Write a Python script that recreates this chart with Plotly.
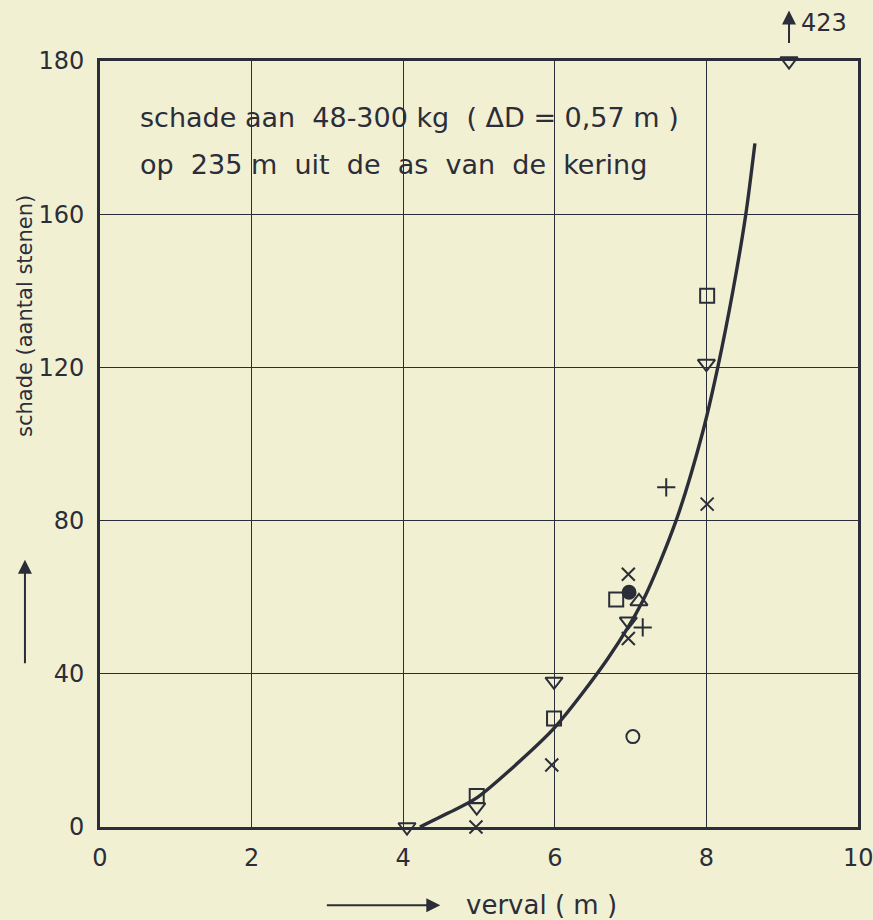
import plotly.graph_objects as go

# Measured damage (number of displaced stones) against head difference (m)
sq_x = [4.97, 5.99, 6.81, 8.01]
sq_y = [8.1, 28.3, 59.4, 138.7]

tri_down_x = [4.05, 4.97, 5.99, 6.97, 8.00, 9.09]
tri_down_y = [0.0, 5.2, 38.0, 53.7, 121.0, 423.0]

cross_x = [4.96, 5.96, 6.97, 6.97, 8.01]
cross_y = [0.0, 16.2, 66.0, 49.2, 84.3]

plus_x = [7.16, 7.47]
plus_y = [52.1, 88.7]

circle_open_x = [7.03]
circle_open_y = [23.6]

circle_fill_x = [6.98]
circle_fill_y = [61.3]

tri_up_x = [7.11]
tri_up_y = [58.9]

# Hand-drawn fitted curve
curve_x = [4.22, 4.60, 4.97, 5.50, 6.00, 6.70, 7.16, 7.60, 7.95, 8.15, 8.35, 8.52, 8.64]
curve_y = [0.0, 3.7, 7.6, 16.5, 26.0, 44.0, 59.0, 80.0, 103.0, 120.0, 140.0, 160.0, 178.5]

x_ticks = [0, 2, 4, 6, 8]
x_last_tick = 10
y_ticks = [0, 40, 80, 120, 160, 200]
y_tick_text = ["0", "40", "80", "120", "160", "180"]

Y_TOP = 200

INK = "#2b2e38"
PAPER = "#f2f0d3"
FONT = "DejaVu Sans"


def clip_top(values):
    return [min(v, Y_TOP) for v in values]


fig = go.Figure()

fig.add_trace(go.Scatter(x=curve_x, y=curve_y, mode="lines",
                         line=dict(color=INK, width=3.4, shape="spline", smoothing=0.8),
                         hoverinfo="skip"))

marker_line = dict(color=INK, width=2)
series = [
    (sq_x, sq_y, "square-open", 14),
    (tri_down_x, clip_top(tri_down_y), "triangle-down-open", 15),
    (cross_x, cross_y, "x-thin-open", 13),
    (plus_x, plus_y, "cross-thin-open", 13),
    (circle_open_x, circle_open_y, "circle-open", 13),
    (circle_fill_x, circle_fill_y, "circle", 13),
    (tri_up_x, tri_up_y, "triangle-up-open", 15),
]
for xs, ys, sym, size in series:
    fig.add_trace(go.Scatter(x=xs, y=ys, mode="markers", cliponaxis=False,
                             marker=dict(symbol=sym, size=size, color=INK, line=marker_line)))

annotations = [
    dict(text="schade aan  48-300 kg  ( \u0394D = 0,57 m )", x=0.05, y=0.926,
         xref="paper", yref="paper", xanchor="left", yanchor="middle", showarrow=False,
         font=dict(size=27, color=INK, family=FONT)),
    dict(text="op  235 m  uit  de  as  van  de  kering", x=0.05, y=0.865,
         xref="paper", yref="paper", xanchor="left", yanchor="middle", showarrow=False,
         font=dict(size=27, color=INK, family=FONT)),
    # last x tick label, placed by hand so it is not dropped at the edge
    dict(text=str(x_last_tick), x=x_last_tick, y=0, xref="x", yref="paper",
         xanchor="center", yanchor="top", yshift=-15, showarrow=False,
         font=dict(size=24, color=INK, family=FONT)),
    # value of the off-scale point
    dict(text="423", x=9.09, y=1.05, xref="x", yref="paper", xanchor="left",
         yanchor="middle", xshift=10, showarrow=False,
         font=dict(size=24, color=INK, family=FONT)),
    dict(text="", x=9.09, y=1.066, xref="x", yref="paper", ax=0, ay=34,
         showarrow=True, arrowhead=2, arrowsize=1.4, arrowwidth=2, arrowcolor=INK),
    # axis titles with arrows
    dict(text="verval ( m )", x=0.48, y=-0.102, xref="paper", yref="paper",
         xanchor="left", yanchor="middle", showarrow=False,
         font=dict(size=26, color=INK, family=FONT)),
    dict(text="", x=0.449, y=-0.102, xref="paper", yref="paper", ax=-115, ay=0,
         showarrow=True, arrowhead=2, arrowsize=1.4, arrowwidth=2, arrowcolor=INK),
    dict(text="schade (aantal stenen)", x=-0.099, y=0.667, xref="paper", yref="paper",
         textangle=-90, xanchor="center", yanchor="middle", showarrow=False,
         font=dict(size=21, color=INK, family=FONT)),
    dict(text="", x=-0.099, y=0.349, xref="paper", yref="paper", ax=0, ay=105,
         showarrow=True, arrowhead=2, arrowsize=1.4, arrowwidth=2, arrowcolor=INK),
]

fig.update_layout(
    width=873, height=920,
    margin=dict(l=100, r=15, t=61, b=93),
    paper_bgcolor=PAPER, plot_bgcolor=PAPER,
    showlegend=False,
    annotations=annotations,
    font=dict(family=FONT, color=INK),
)

fig.update_xaxes(range=[0, 10], tickvals=x_ticks, showgrid=True, gridcolor=INK, gridwidth=1.3,
                 showline=True, linecolor=INK, linewidth=2.6, mirror=True, zeroline=False,
                 ticks="", ticklabelstandoff=7, tickfont=dict(size=24, color=INK, family=FONT))
fig.update_yaxes(range=[0, Y_TOP], tickvals=y_ticks, ticktext=y_tick_text, showgrid=True,
                 gridcolor=INK, gridwidth=1.3, showline=True, linecolor=INK, linewidth=2.6,
                 mirror=True, zeroline=False, ticks="", ticklabelstandoff=8,
                 tickfont=dict(size=24, color=INK, family=FONT))

fig.write_html("out.html")
